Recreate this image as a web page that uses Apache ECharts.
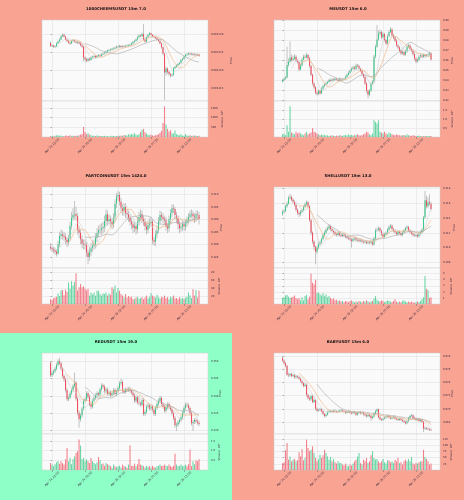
<!DOCTYPE html>
<html>
<head>
<meta charset="utf-8">
<script src="https://cdn.jsdelivr.net/npm/echarts@6/dist/echarts.min.js"></script>
<style>
html, body { margin: 0; padding: 0; width: 464px; height: 500px; overflow: hidden; background: #f9a393; }
.panel { position: absolute; width: 232px; }
</style>
</head>
<body>
<div id="p0" class="panel" style="left:0;top:0;height:167px"></div>
<div id="p1" class="panel" style="left:232px;top:0;height:167px"></div>
<div id="p2" class="panel" style="left:0;top:167px;height:166px"></div>
<div id="p3" class="panel" style="left:232px;top:167px;height:166px"></div>
<div id="p4" class="panel" style="left:0;top:333px;height:167px"></div>
<div id="p5" class="panel" style="left:232px;top:333px;height:167px"></div>
<script>
// x tick positions (candle index) and their time labels
const xTickPos = [1, 23, 45, 67, 89];
const xTickLabels = ['Apr 24 15:00', 'Apr 24 20:30', 'Apr 25 02:00', 'Apr 25 07:30', 'Apr 25 13:00'];

// ---- 1000CHEEMSUSDT ----
const cheemsOpen0 = 0.0012277;
const cheemsClose = [
  0.0012268,0.0012269,0.0012266,0.0012267,0.0012275,0.0012280,0.0012286,0.0012295,0.0012299,0.0012294,
  0.0012286,0.0012282,0.0012277,0.0012275,0.0012281,0.0012284,0.0012280,0.0012277,0.0012279,0.0012275,
  0.0012270,0.0012266,0.0012236,0.0012231,0.0012227,0.0012232,0.0012229,0.0012236,0.0012238,0.0012240,
  0.0012236,0.0012240,0.0012242,0.0012240,0.0012245,0.0012247,0.0012249,0.0012252,0.0012255,0.0012256,
  0.0012258,0.0012260,0.0012261,0.0012263,0.0012266,0.0012265,0.0012268,0.0012265,0.0012267,0.0012266,
  0.0012268,0.0012269,0.0012270,0.0012271,0.0012275,0.0012279,0.0012282,0.0012286,0.0012292,0.0012297,
  0.0012295,0.0012301,0.0012286,0.0012280,0.0012292,0.0012299,0.0012303,0.0012299,0.0012295,0.0012292,
  0.0012290,0.0012286,0.0012282,0.0012275,0.0012264,0.0012247,0.0012194,0.0012205,0.0012196,0.0012190,
  0.0012186,0.0012188,0.0012206,0.0012210,0.0012214,0.0012218,0.0012221,0.0012229,0.0012232,0.0012238,
  0.0012243,0.0012244,0.0012247,0.0012245,0.0012246,0.0012243,0.0012245,0.0012242,0.0012244,0.0012241];
const cheemsHigh = [
  0.0012280,0.0012272,0.0012271,0.0012270,0.0012278,0.0012283,0.0012289,0.0012298,0.0012303,0.0012302,
  0.0012296,0.0012289,0.0012285,0.0012280,0.0012284,0.0012287,0.0012286,0.0012283,0.0012282,0.0012281,
  0.0012278,0.0012273,0.0012268,0.0012239,0.0012235,0.0012236,0.0012236,0.0012239,0.0012241,0.0012243,
  0.0012242,0.0012243,0.0012245,0.0012245,0.0012248,0.0012250,0.0012252,0.0012255,0.0012258,0.0012259,
  0.0012261,0.0012263,0.0012264,0.0012266,0.0012269,0.0012269,0.0012271,0.0012270,0.0012270,0.0012270,
  0.0012271,0.0012272,0.0012273,0.0012274,0.0012278,0.0012282,0.0012285,0.0012289,0.0012295,0.0012301,
  0.0012300,0.0012305,0.0012329,0.0012290,0.0012295,0.0012302,0.0012306,0.0012305,0.0012301,0.0012297,
  0.0012294,0.0012292,0.0012288,0.0012284,0.0012277,0.0012266,0.0012249,0.0012210,0.0012208,0.0012199,
  0.0012193,0.0012192,0.0012209,0.0012213,0.0012217,0.0012221,0.0012224,0.0012232,0.0012235,0.0012241,
  0.0012246,0.0012248,0.0012250,0.0012250,0.0012249,0.0012248,0.0012248,0.0012247,0.0012247,0.0012246];
const cheemsLow = [
  0.0012265,0.0012265,0.0012263,0.0012262,0.0012265,0.0012273,0.0012278,0.0012284,0.0012292,0.0012291,
  0.0012284,0.0012279,0.0012274,0.0012271,0.0012273,0.0012279,0.0012277,0.0012275,0.0012274,0.0012272,
  0.0012267,0.0012262,0.0012226,0.0012224,0.0012222,0.0012224,0.0012226,0.0012227,0.0012233,0.0012235,
  0.0012233,0.0012234,0.0012238,0.0012237,0.0012238,0.0012243,0.0012245,0.0012247,0.0012250,0.0012253,
  0.0012254,0.0012256,0.0012258,0.0012259,0.0012261,0.0012262,0.0012263,0.0012263,0.0012263,0.0012264,
  0.0012264,0.0012266,0.0012267,0.0012268,0.0012269,0.0012273,0.0012277,0.0012280,0.0012284,0.0012290,
  0.0012292,0.0012293,0.0012284,0.0012277,0.0012278,0.0012290,0.0012297,0.0012296,0.0012292,0.0012289,
  0.0012287,0.0012283,0.0012279,0.0012272,0.0012260,0.0012242,0.0012118,0.0012185,0.0012190,0.0012184,
  0.0012180,0.0012182,0.0012185,0.0012203,0.0012207,0.0012211,0.0012215,0.0012218,0.0012226,0.0012230,
  0.0012236,0.0012241,0.0012242,0.0012243,0.0012243,0.0012241,0.0012241,0.0012240,0.0012240,0.0012238];
const cheemsVol = [
  40,60,30,70,80,90,60,80,50,40,70,60,50,90,40,60,50,70,60,90,120,150,
  520,260,150,200,120,90,60,70,50,80,60,50,
  40,50,60,40,50,30,40,60,50,40,50,70,60,80,60,100,90,80,140,120,
  160,130,200,110,90,150,260,
  380,420,250,180,120,90,
  120,80,70,90,110,140,220,
  320,720,1580,650,420,280,350,200,
  180,340,150,120,90,140,70,60,150,
  80,60,90,50,70,80,60,50,70];
const cheemsPriceTicks = [0.001215, 0.00122, 0.001225, 0.00123];
const cheemsVolTicks = [500, 1000, 1500];

// ---- MEUSDT ----
const meOpen0 = 0.8390;
const meClose = [
  0.8407,0.8420,0.8433,0.8557,0.8590,0.8633,0.8607,0.8620,0.8640,0.8600,
  0.8587,0.8513,0.8553,0.8613,0.8640,0.8633,0.8657,0.8623,0.8547,0.8460,
  0.8373,0.8333,0.8280,0.8267,0.8300,0.8273,0.8320,0.8347,0.8360,0.8373,
  0.8387,0.8407,0.8400,0.8413,0.8407,0.8420,0.8413,0.8400,0.8420,0.8407,
  0.8413,0.8420,0.8440,0.8460,0.8480,0.8500,0.8520,0.8533,0.8520,0.8553,
  0.8547,0.8520,0.8500,0.8467,0.8440,0.8373,0.8300,0.8260,0.8300,0.8373,
  0.8390,0.8640,0.8740,0.8813,0.8873,0.8887,0.8833,0.8867,0.8807,0.8773,
  0.8847,0.8887,0.8913,0.8853,0.8833,0.8800,0.8753,0.8733,0.8700,0.8673,
  0.8687,0.8660,0.8693,0.8740,0.8753,0.8720,0.8700,0.8667,0.8620,0.8593,
  0.8607,0.8640,0.8653,0.8640,0.8657,0.8647,0.8653,0.8660,0.8673,0.8613];
const meHigh = [
  0.8420,0.8433,0.8447,0.8740,0.8620,0.8790,0.8660,0.8650,0.8667,0.8655,
  0.8615,0.8595,0.8570,0.8630,0.8660,0.8660,0.8680,0.8670,0.8635,0.8560,
  0.8470,0.8385,0.8345,0.8295,0.8315,0.8310,0.8335,0.8360,0.8375,0.8390,
  0.8400,0.8420,0.8420,0.8425,0.8425,0.8432,0.8430,0.8425,0.8432,0.8430,
  0.8425,0.8432,0.8452,0.8475,0.8495,0.8515,0.8535,0.8550,0.8545,0.8570,
  0.8567,0.8560,0.8530,0.8510,0.8475,0.8450,0.8385,0.8310,0.8315,0.8385,
  0.8405,0.8660,0.8760,0.8957,0.8900,0.8910,0.8900,0.8885,0.8880,0.8820,
  0.8865,0.8905,0.8935,0.8925,0.8870,0.8845,0.8815,0.8770,0.8745,0.8715,
  0.8705,0.8700,0.8710,0.8755,0.8770,0.8765,0.8735,0.8715,0.8680,0.8635,
  0.8625,0.8655,0.8670,0.8668,0.8672,0.8670,0.8668,0.8675,0.8690,0.8685];
const meLow = [
  0.8380,0.8397,0.8410,0.8425,0.8540,0.8580,0.8590,0.8595,0.8610,0.8585,
  0.8570,0.8495,0.8500,0.8545,0.8605,0.8620,0.8625,0.8610,0.8530,0.8445,
  0.8355,0.8315,0.8265,0.8250,0.8255,0.8260,0.8265,0.8310,0.8335,0.8350,
  0.8365,0.8380,0.8390,0.8390,0.8395,0.8398,0.8400,0.8388,0.8390,0.8395,
  0.8397,0.8405,0.8410,0.8430,0.8450,0.8470,0.8490,0.8510,0.8505,0.8510,
  0.8535,0.8505,0.8485,0.8450,0.8425,0.8355,0.8280,0.8223,0.8245,0.8290,
  0.8360,0.8380,0.8625,0.8730,0.8800,0.8855,0.8815,0.8820,0.8790,0.8755,
  0.8760,0.8835,0.8875,0.8840,0.8815,0.8785,0.8740,0.8715,0.8685,0.8655,
  0.8660,0.8645,0.8650,0.8680,0.8725,0.8705,0.8685,0.8650,0.8605,0.8575,
  0.8580,0.8595,0.8625,0.8625,0.8628,0.8632,0.8635,0.8640,0.8648,0.8600];
const meVol = [
  0.15,0.2,0.1,0.66,0.3,1.74,0.25,0.2,0.15,0.3,0.2,0.25,0.2,0.15,0.1,0.2,0.3,0.15,0.2,0.25,0.5,
  0.3,0.25,0.2,0.15,0.1,0.15,0.1,0.12,0.08,0.1,0.06,0.08,0.1,0.07,0.05,0.08,0.06,0.1,0.08,0.06,
  0.1,0.12,0.08,0.15,0.1,0.12,0.08,0.1,0.12,0.15,0.1,0.08,0.12,0.15,0.2,0.3,0.25,0.15,0.1,0.2,
  0.95,0.85,0.76,0.95,0.3,0.25,0.2,0.3,0.2,0.15,0.25,0.2,0.15,0.12,0.1,0.15,0.12,0.1,0.08,0.1,
  0.12,0.08,0.15,0.1,0.08,0.06,0.1,0.08,0.05,0.06,0.08,0.05,0.06,0.04,0.06,0.05,0.04,0.06,0.05];
const mePriceTicks = [0.82, 0.83, 0.84, 0.85, 0.86, 0.87, 0.88, 0.89, 0.90];
const meVolTicks = [0.5, 1.0, 1.5];

// ---- PARTCOINUSDT ----
const partOpen0 = 0.18900;
const partClose = [
  0.18846,0.18806,0.18766,0.18713,0.18633,0.19005,0.19338,0.19404,0.19351,0.19298,
  0.19191,0.19085,0.19245,0.19737,0.20069,0.20176,0.20202,0.20136,0.19590,0.19471,
  0.19205,0.19032,0.19005,0.18979,0.18673,0.18500,0.18713,0.18872,0.18952,0.19005,
  0.19271,0.19457,0.19564,0.19590,0.19644,0.19697,0.19936,0.20202,0.19936,0.20003,
  0.19910,0.19803,0.20069,0.20628,0.20920,0.20973,0.20707,0.20442,0.20335,0.20495,
  0.20255,0.20202,0.20069,0.19910,0.19803,0.19670,0.19737,0.19604,0.19910,0.20096,
  0.20202,0.20016,0.19910,0.19723,0.19590,0.19777,0.19856,0.19910,0.19165,0.19112,
  0.19404,0.19564,0.19936,0.20176,0.20096,0.20016,0.19963,0.19723,0.19644,0.20016,
  0.20255,0.20442,0.20415,0.20176,0.20042,0.19803,0.19644,0.19697,0.19803,0.19723,
  0.19870,0.19963,0.20096,0.20202,0.20229,0.20122,0.20042,0.20202,0.20176,0.20016];
const partHigh = [
  0.19050,0.18950,0.18900,0.18880,0.18800,0.19150,0.19500,0.19600,0.19550,0.19500,
  0.19450,0.19300,0.19400,0.19900,0.20300,0.20450,0.20734,0.20500,0.20250,0.19750,
  0.19600,0.19350,0.19200,0.19200,0.19100,0.18800,0.18900,0.19050,0.19150,0.19200,
  0.19450,0.19650,0.19750,0.19800,0.19850,0.19900,0.20150,0.20400,0.20350,0.20200,
  0.20150,0.20050,0.20250,0.20800,0.21050,0.21133,0.21100,0.20850,0.20600,0.20650,
  0.20650,0.20400,0.20350,0.20200,0.20050,0.19950,0.19900,0.19850,0.20100,0.20300,
  0.20400,0.20350,0.20150,0.20050,0.19850,0.19950,0.20050,0.20100,0.20000,0.19300,
  0.19550,0.19750,0.20100,0.20350,0.20300,0.20250,0.20150,0.20100,0.19850,0.20150,
  0.20400,0.20600,0.20600,0.20500,0.20300,0.20150,0.19950,0.19850,0.19950,0.19950,
  0.20000,0.20100,0.20250,0.20350,0.20400,0.20350,0.20250,0.20350,0.20350,0.20300];
const partLow = [
  0.18760,0.18700,0.18650,0.18600,0.18520,0.18580,0.18900,0.19200,0.19200,0.19150,
  0.19000,0.18900,0.18950,0.19150,0.19600,0.19950,0.20000,0.19950,0.19400,0.19250,
  0.19000,0.18850,0.18800,0.18800,0.18500,0.18207,0.18350,0.18550,0.18700,0.18800,
  0.18850,0.19100,0.19300,0.19400,0.19400,0.19450,0.19500,0.19750,0.19750,0.19800,
  0.19700,0.19600,0.19650,0.19900,0.20450,0.20750,0.20550,0.20250,0.20150,0.20150,
  0.20050,0.20000,0.19900,0.19750,0.19600,0.19450,0.19500,0.19400,0.19450,0.19750,
  0.19950,0.19850,0.19750,0.19550,0.19400,0.19450,0.19650,0.19700,0.19000,0.18939,
  0.18950,0.19250,0.19450,0.19800,0.19950,0.19850,0.19800,0.19550,0.19450,0.19500,
  0.19850,0.20100,0.20250,0.20000,0.19850,0.19600,0.19450,0.19500,0.19550,0.19550,
  0.19550,0.19700,0.19800,0.19950,0.20050,0.19950,0.19850,0.19900,0.20000,0.19800];
const partVol = [
  12,10,14,16,18,26,20,34,35,22,36,30,54,38,57,46,55,77,34,42,
  50,42,44,38,34,38,21,29,24,29,21,33,33,25,21,27,25,29,21,27,
  23,42,37,46,29,40,33,25,21,17,25,16,20,17,18,12,13,16,18,13,
  15,17,12,16,21,14,18,27,21,18,16,23,17,13,18,16,21,15,17,12,
  18,16,21,14,15,12,17,13,15,12,16,18,29,21,15,37,21,35,16,33];
const partPriceTicks = [0.185, 0.190, 0.195, 0.200, 0.205, 0.210];
const partVolTicks = [20, 40, 60, 80];

// ---- SHELLUSDT ----
const shellOpen0 = 0.11450;
const shellClose = [
  0.11486,0.11495,0.11558,0.11594,0.11675,0.11684,0.11648,0.11621,0.11576,0.11513,
  0.11468,0.11450,0.11486,0.11504,0.11549,0.11585,0.11612,0.11558,0.11370,0.11204,
  0.11083,0.11011,0.10948,0.11002,0.11047,0.11074,0.11119,0.11172,0.11204,0.11244,
  0.11262,0.11289,0.11253,0.11226,0.11208,0.11181,0.11172,0.11199,0.11172,0.11159,
  0.11181,0.11163,0.11145,0.11136,0.11128,0.11110,0.11092,0.11119,0.11128,0.11101,
  0.11110,0.11092,0.11101,0.11083,0.11074,0.11083,0.11065,0.11074,0.11065,0.11083,
  0.11047,0.11128,0.11235,0.11244,0.11262,0.11226,0.11181,0.11145,0.11181,0.11199,
  0.11244,0.11280,0.11298,0.11253,0.11226,0.11208,0.11181,0.11217,0.11199,0.11172,
  0.11208,0.11235,0.11262,0.11280,0.11235,0.11208,0.11190,0.11172,0.11163,0.11172,
  0.11154,0.11190,0.11208,0.11244,0.11406,0.11639,0.11558,0.11612,0.11594,0.11522];
const shellHigh = [
  0.11510,0.11520,0.11580,0.11620,0.11700,0.11728,0.11705,0.11670,0.11640,0.11595,
  0.11530,0.11490,0.11510,0.11525,0.11570,0.11610,0.11640,0.11630,0.11575,0.11390,
  0.11220,0.11100,0.11030,0.11030,0.11080,0.11100,0.11140,0.11200,0.11230,0.11270,
  0.11290,0.11320,0.11310,0.11275,0.11245,0.11230,0.11200,0.11220,0.11220,0.11195,
  0.11200,0.11200,0.11185,0.11165,0.11155,0.11150,0.11130,0.11140,0.11150,0.11150,
  0.11130,0.11130,0.11125,0.11120,0.11100,0.11105,0.11100,0.11095,0.11095,0.11105,
  0.11100,0.11150,0.11260,0.11270,0.11290,0.11280,0.11245,0.11200,0.11200,0.11220,
  0.11265,0.11305,0.11320,0.11315,0.11270,0.11245,0.11225,0.11240,0.11235,0.11215,
  0.11230,0.11255,0.11285,0.11305,0.11295,0.11250,0.11225,0.11210,0.11190,0.11190,
  0.11190,0.11210,0.11230,0.11265,0.11430,0.11764,0.11700,0.11680,0.11720,0.11620];
const shellLow = [
  0.11430,0.11465,0.11480,0.11540,0.11580,0.11650,0.11625,0.11600,0.11555,0.11490,
  0.11440,0.11410,0.11430,0.11465,0.11490,0.11530,0.11570,0.11540,0.11350,0.11170,
  0.11050,0.10970,0.10778,0.10920,0.10980,0.11020,0.11050,0.11100,0.11150,0.11185,
  0.11225,0.11240,0.11230,0.11205,0.11190,0.11160,0.11150,0.11155,0.11150,0.11140,
  0.11140,0.11145,0.11125,0.11115,0.11105,0.11090,0.11002,0.11075,0.11100,0.11080,
  0.11080,0.11070,0.11075,0.11060,0.11055,0.11055,0.11045,0.11045,0.11045,0.11045,
  0.11024,0.11030,0.11110,0.11215,0.11225,0.11205,0.11160,0.11125,0.11130,0.11165,
  0.11180,0.11225,0.11260,0.11235,0.11205,0.11190,0.11160,0.11165,0.11180,0.11155,
  0.11155,0.11190,0.11220,0.11245,0.11215,0.11190,0.11170,0.11155,0.11145,0.11145,
  0.11135,0.11135,0.11170,0.11190,0.11225,0.11390,0.11530,0.11540,0.11570,0.11500];
const shellVol = [
  1.0,1.1,1.4,1.5,1.2,1.0,1.1,1.2,1.4,1.0,0.8,1.0,0.6,1.1,0.6,1.3,1.5,0.8,1.2,5.0,
  3.5,3.2,4.0,1.8,1.9,1.6,1.4,1.8,1.3,1.6,1.1,1.3,1.0,0.8,0.9,0.6,0.7,0.5,0.6,0.4,
  0.5,0.3,0.5,0.4,0.3,0.5,0.6,0.4,0.3,0.4,0.3,0.5,0.4,0.3,0.5,0.4,0.6,0.4,0.3,0.4,
  0.5,0.9,1.3,0.7,0.5,0.4,0.6,0.5,0.3,0.4,0.6,0.5,0.4,0.3,0.5,0.8,0.4,0.3,0.4,0.3,
  0.5,0.6,0.4,0.3,0.4,0.3,0.4,0.3,0.2,0.3,0.4,0.3,0.5,0.8,1.1,4.6,2.5,2.3,1.0,1.1];
const shellPriceTicks = [0.108, 0.110, 0.112, 0.114, 0.116, 0.118];
const shellVolTicks = [1, 2, 3, 4, 5];

// ---- REDUSDT ----
const redOpen0 = 0.34952;
const redClose = [
  0.34589,0.34646,0.34704,0.34780,0.34895,0.34990,0.34933,0.34780,0.34570,0.34474,
  0.34168,0.33901,0.33948,0.34073,0.34168,0.34283,0.34379,0.33920,0.33518,0.33327,
  0.33442,0.33633,0.33853,0.33901,0.34073,0.33977,0.33757,0.33690,0.33862,0.33939,
  0.34015,0.34073,0.34034,0.34187,0.34302,0.34264,0.34130,0.34187,0.34054,0.34092,
  0.34015,0.34073,0.34168,0.34054,0.34130,0.34226,0.34360,0.34398,0.34149,0.34111,
  0.34187,0.34168,0.34207,0.34149,0.34092,0.34015,0.33862,0.33958,0.33805,0.33786,
  0.33748,0.33882,0.33480,0.33537,0.33690,0.33729,0.33633,0.33690,0.33595,0.33480,
  0.33652,0.33767,0.33862,0.33939,0.33767,0.33690,0.33576,0.33671,0.33767,0.33671,
  0.33614,0.33499,0.33365,0.33155,0.33174,0.33250,0.33308,0.33384,0.33518,0.33652,
  0.33748,0.33729,0.33652,0.33499,0.33212,0.33250,0.33308,0.33270,0.33231,0.33193];
const redHigh = [
  0.35000,0.34700,0.34760,0.34840,0.34950,0.35050,0.35096,0.34980,0.34830,0.34620,
  0.34520,0.34220,0.34010,0.34130,0.34220,0.34340,0.34665,0.34430,0.33970,0.33580,
  0.33500,0.33690,0.33910,0.33960,0.34130,0.34130,0.34030,0.33810,0.33920,0.34000,
  0.34070,0.34130,0.34120,0.34240,0.34360,0.34350,0.34320,0.34240,0.34240,0.34150,
  0.34150,0.34130,0.34220,0.34220,0.34180,0.34280,0.34420,0.34500,0.34450,0.34200,
  0.34240,0.34240,0.34260,0.34260,0.34200,0.34140,0.34070,0.34010,0.34010,0.34000,
  0.33840,0.33940,0.33930,0.33600,0.33750,0.33790,0.33780,0.33750,0.33750,0.33650,
  0.33710,0.33820,0.33920,0.34000,0.33990,0.33820,0.33740,0.33730,0.33820,0.33820,
  0.33720,0.33670,0.33550,0.33420,0.33230,0.33310,0.33360,0.33440,0.33570,0.33710,
  0.33800,0.33820,0.33780,0.33700,0.33550,0.33310,0.33360,0.33360,0.33320,0.33280];
const redLow = [
  0.34540,0.34540,0.34600,0.34660,0.34730,0.34850,0.34880,0.34720,0.34510,0.34400,
  0.34100,0.33850,0.33840,0.33900,0.34020,0.34110,0.34230,0.33860,0.33440,0.33088,
  0.33260,0.33380,0.33580,0.33800,0.33850,0.33920,0.33700,0.33620,0.33640,0.33810,
  0.33880,0.33960,0.33980,0.33980,0.34130,0.34200,0.34070,0.34070,0.34000,0.34000,
  0.33960,0.33960,0.34020,0.34000,0.34000,0.34070,0.34170,0.34300,0.34090,0.34050,
  0.34060,0.34110,0.34110,0.34090,0.34040,0.33960,0.33800,0.33800,0.33750,0.33730,
  0.33690,0.33690,0.33420,0.33420,0.33480,0.33640,0.33580,0.33580,0.33540,0.33420,
  0.33420,0.33600,0.33710,0.33800,0.33710,0.33630,0.33520,0.33520,0.33610,0.33610,
  0.33560,0.33440,0.33300,0.33090,0.32992,0.33110,0.33190,0.33250,0.33330,0.33460,
  0.33600,0.33670,0.33600,0.33440,0.33150,0.32992,0.33190,0.33210,0.33170,0.33130];
const redVol = [
  0.36,0.28,0.2,0.3,0.4,0.45,0.32,0.45,0.35,0.28,0.55,1.14,0.45,0.62,0.3,0.55,0.7,0.88,0.97,1.57,
  1.26,0.55,0.62,0.45,0.55,0.45,0.36,0.62,0.45,0.36,0.3,0.4,0.67,0.5,0.3,0.33,0.22,0.36,0.3,0.25,
  0.2,0.12,0.28,0.2,0.15,0.2,0.22,0.12,0.28,0.2,0.18,0.12,0.28,1.26,0.2,0.22,0.33,0.2,0.3,0.57,
  0.28,0.25,0.2,0.12,0.22,0.15,0.2,0.12,0.22,0.15,0.12,0.2,0.22,0.28,0.2,0.22,0.28,0.22,0.2,0.28,
  0.2,0.15,0.22,0.84,0.28,0.2,0.22,0.28,0.2,0.22,0.28,0.2,0.3,1.05,0.2,0.45,0.3,0.5,0.45,0.55];
const redPriceTicks = [0.330, 0.335, 0.340, 0.345, 0.350];
const redVolTicks = [0.5, 1.0, 1.5];

// ---- BABYUSDT ----
const babyOpen0 = 0.07770;
const babyClose = [
  0.07729,0.07689,0.07649,0.07518,0.07508,0.07528,0.07498,0.07508,0.07478,0.07493,
  0.07478,0.07457,0.07417,0.07387,0.07347,0.07367,0.07216,0.07165,0.07145,0.07195,
  0.07105,0.07135,0.07004,0.06974,0.06984,0.06994,0.06964,0.06923,0.06893,0.06913,
  0.06954,0.06964,0.06969,0.06959,0.06974,0.06964,0.06954,0.06964,0.06974,0.06979,
  0.06964,0.06954,0.06943,0.06954,0.06964,0.06943,0.06933,0.06954,0.06943,0.06913,
  0.06943,0.06954,0.06933,0.06943,0.06918,0.06903,0.06888,0.06913,0.06893,0.06863,
  0.06883,0.06933,0.06964,0.06994,0.06873,0.06843,0.06833,0.06853,0.06868,0.06883,
  0.06893,0.06873,0.06853,0.06868,0.06883,0.06853,0.06843,0.06833,0.06853,0.06833,
  0.06818,0.06802,0.06782,0.06813,0.06863,0.06893,0.06903,0.06868,0.06853,0.06833,
  0.06843,0.06818,0.06833,0.06802,0.06702,0.06712,0.06702,0.06692,0.06687,0.06682];
const babyHigh = [
  0.07800,0.07745,0.07705,0.07665,0.07545,0.07550,0.07545,0.07530,0.07525,0.07515,
  0.07510,0.07500,0.07475,0.07435,0.07405,0.07390,0.07385,0.07235,0.07190,0.07215,
  0.07215,0.07160,0.07150,0.07020,0.07005,0.07015,0.07010,0.06980,0.06940,0.06935,
  0.06975,0.06985,0.06985,0.06985,0.06990,0.06990,0.06980,0.06980,0.06990,0.06995,
  0.06995,0.06980,0.06970,0.06970,0.06980,0.06980,0.06960,0.06970,0.06970,0.06960,
  0.06960,0.06970,0.06970,0.06960,0.06960,0.06935,0.06920,0.06930,0.06930,0.06910,
  0.06900,0.06950,0.06985,0.07004,0.07005,0.06890,0.06860,0.06870,0.06885,0.06900,
  0.06910,0.06910,0.06890,0.06885,0.06900,0.06900,0.06870,0.06860,0.06870,0.06870,
  0.06850,0.06835,0.06820,0.06830,0.06880,0.06910,0.06925,0.06915,0.06885,0.06870,
  0.06860,0.06860,0.06850,0.06850,0.06820,0.06735,0.06730,0.06720,0.06710,0.06705];
const babyLow = [
  0.07715,0.07670,0.07630,0.07500,0.07480,0.07490,0.07475,0.07480,0.07455,0.07460,
  0.07460,0.07440,0.07400,0.07365,0.07325,0.07330,0.07185,0.07140,0.07120,0.07125,
  0.07085,0.07090,0.06985,0.06955,0.06960,0.06965,0.06945,0.06905,0.06870,0.06875,
  0.06900,0.06940,0.06950,0.06945,0.06945,0.06950,0.06940,0.06940,0.06950,0.06960,
  0.06950,0.06940,0.06925,0.06930,0.06940,0.06925,0.06915,0.06920,0.06925,0.06895,
  0.06900,0.06930,0.06915,0.06920,0.06900,0.06885,0.06870,0.06875,0.06875,0.06817,
  0.06845,0.06870,0.06920,0.06950,0.06855,0.06825,0.06815,0.06820,0.06840,0.06855,
  0.06870,0.06860,0.06840,0.06840,0.06855,0.06840,0.06825,0.06815,0.06820,0.06815,
  0.06800,0.06785,0.06765,0.06770,0.06800,0.06850,0.06880,0.06850,0.06835,0.06815,
  0.06820,0.06800,0.06805,0.06785,0.06650,0.06685,0.06685,0.06675,0.06670,0.06665];
const babyVol = [
  28,31,80,109,42,55,35,42,45,35,40,72,55,85,39,50,123,89,76,82,
  96,69,49,35,45,62,49,60,82,69,55,42,53,35,45,31,26,35,28,28,
  22,18,26,18,15,22,18,26,35,42,55,69,28,22,42,35,49,28,35,60,
  76,49,42,45,35,28,35,45,31,26,39,39,31,35,28,42,35,49,28,31,
  22,35,42,35,45,35,53,26,22,28,26,31,35,35,82,53,45,35,22,26];
const babyPriceTicks = [0.068, 0.070, 0.072, 0.074, 0.076, 0.078];
const babyVolTicks = [25, 50, 75, 100, 125];

// moving average periods drawn over the candles
const maPeriods = [7, 12, 24];
const maColors = ['#d4d4d4', '#f0b07a', '#a9a9a9'];

const UP = '#3cc98a';
const DOWN = '#ef4f5e';
const UP_VOL = 'rgba(60,201,138,0.75)';
const DOWN_VOL = 'rgba(239,79,94,0.7)';
const WICK = '#b4b4b4';
const GRID_LINE = '#e3e3e3';
const TEXT = '#3a2a3a';
const FONT = 'DejaVu Sans';
const TICK_FONT = 2.6;

function sma(vals, n) {
  const out = [];
  let sum = 0;
  for (let i = 0; i < vals.length; i++) {
    sum += vals[i];
    if (i >= n) sum -= vals[i - n];
    if (i >= n - 1) out.push([i, sum / n]);
  }
  return out;
}

function drawPanel(id, p) {
  const chart = echarts.init(document.getElementById(id), null, { renderer: 'canvas' });
  const opens = [p.open0].concat(p.close.slice(0, -1));
  const candles = p.close.map((c, i) => [i, opens[i], c, p.low[i], p.high[i]]);
  const vols = p.vol.map((v, i) => ({
    value: [i, v],
    itemStyle: { color: p.close[i] >= opens[i] ? UP_VOL : DOWN_VOL }
  }));

  const xBase = {
    type: 'value', min: -5.7, max: 105,
    axisLine: { show: false },
    splitLine: { show: true, lineStyle: { color: GRID_LINE, width: 0.6 } }
  };
  const yBase = {
    type: 'value', position: 'right',
    axisLine: { show: false },
    splitLine: { show: true, lineStyle: { color: GRID_LINE, width: 0.6 } },
    nameLocation: 'middle', nameRotate: 90, nameMoveOverlap: false,
    nameTextStyle: { fontSize: 2.8, color: TEXT, fontFamily: FONT }
  };

  const series = [{
    type: 'custom',
    xAxisIndex: 0, yAxisIndex: 0,
    clip: true,
    encode: { x: 0, y: [1, 2, 3, 4] },
    data: candles,
    renderItem: function (params, api) {
      const x = api.value(0);
      const o = api.value(1), c = api.value(2);
      const top = api.coord([x, Math.max(o, c)]);
      const bot = api.coord([x, Math.min(o, c)]);
      const hi = api.coord([x, api.value(4)]);
      const lo = api.coord([x, api.value(3)]);
      const w = api.size([1, 0])[0] * 0.72;
      return {
        type: 'group',
        children: [
          { type: 'line', shape: { x1: hi[0], y1: hi[1], x2: lo[0], y2: lo[1] },
            style: { stroke: WICK, lineWidth: 0.8 } },
          { type: 'rect', shape: { x: top[0] - w / 2, y: top[1], width: w, height: Math.max(bot[1] - top[1], 0.7) },
            style: { fill: c >= o ? UP : DOWN } }
        ]
      };
    }
  }];
  maPeriods.forEach((n, k) => {
    series.push({
      type: 'line', xAxisIndex: 0, yAxisIndex: 0,
      data: sma(p.close, n), showSymbol: false, silent: true, z: 3,
      lineStyle: { color: maColors[k], width: 0.6 }
    });
  });
  series.push({
    type: 'bar', xAxisIndex: 1, yAxisIndex: 1,
    data: vols, barWidth: 1.1
  });

  const gridBase = {
    left: 42, right: 24, show: true, backgroundColor: '#fafafa',
    borderColor: '#cfcfcf', borderWidth: 0.5,
    containLabel: false, outerBoundsMode: 'none'
  };

  chart.setOption({
    animation: false,
    backgroundColor: p.bg,
    title: {
      text: p.title, left: 'center', top: 1.5,
      textStyle: { fontSize: 3.9, fontWeight: 'bold', color: '#111', fontFamily: FONT }
    },
    grid: [
      Object.assign({}, gridBase, { top: 20, height: 81 }),
      Object.assign({}, gridBase, { top: 101, height: 36 })
    ],
    xAxis: [
      Object.assign({}, xBase, {
        gridIndex: 0,
        axisTick: { show: false, customValues: xTickPos },
        axisLabel: { show: false }
      }),
      Object.assign({}, xBase, {
        gridIndex: 1,
        axisTick: { show: true, customValues: xTickPos, length: 2, lineStyle: { color: '#666', width: 0.5 } },
        axisLabel: {
          customValues: xTickPos,
          formatter: v => xTickLabels[xTickPos.indexOf(v)],
          rotate: 45, align: 'center', verticalAlign: 'middle', margin: 9,
          fontSize: 3.0, color: TEXT, fontFamily: FONT
        }
      })
    ],
    yAxis: [
      Object.assign({}, yBase, {
        gridIndex: 0, min: p.priceMin, max: p.priceMax,
        name: 'Price', nameGap: p.priceNameGap,
        axisTick: { show: true, customValues: p.priceTicks, length: 1.5, lineStyle: { color: '#666', width: 0.5 } },
        axisLabel: {
          customValues: p.priceTicks, formatter: v => v.toFixed(p.priceDec),
          fontSize: TICK_FONT, color: TEXT, fontFamily: FONT, margin: 3
        }
      }),
      Object.assign({}, yBase, {
        gridIndex: 1, min: 0, max: p.volMax,
        name: 'Volume  10\u2076', nameGap: p.volNameGap,
        axisTick: { show: true, customValues: p.volTicks, length: 1.5, lineStyle: { color: '#666', width: 0.5 } },
        axisLabel: {
          customValues: p.volTicks, formatter: v => v.toFixed(p.volDec),
          fontSize: TICK_FONT, color: TEXT, fontFamily: FONT, margin: 3
        }
      })
    ],
    series: series
  });
}

const SALMON = '#f9a393';
const MINT = '#8fffc8';

drawPanel('p0', { title: '1000CHEEMSUSDT 15m 7.0', bg: SALMON, open0: cheemsOpen0, close: cheemsClose, high: cheemsHigh, low: cheemsLow, vol: cheemsVol,
  priceTicks: cheemsPriceTicks, priceDec: 6, priceMin: 0.0012115, priceMax: 0.0012340, volTicks: cheemsVolTicks, volDec: 0, volMax: 1860,
  priceNameGap: 22, volNameGap: 13 });
drawPanel('p1', { title: 'MEUSDT 15m 6.0', bg: SALMON, open0: meOpen0, close: meClose, high: meHigh, low: meLow, vol: meVol,
  priceTicks: mePriceTicks, priceDec: 2, priceMin: 0.8197, priceMax: 0.9007, volTicks: meVolTicks, volDec: 1, volMax: 2.04,
  priceNameGap: 11, volNameGap: 11 });
drawPanel('p2', { title: 'PARTCOINUSDT 15m 1424.0', bg: SALMON, open0: partOpen0, close: partClose, high: partHigh, low: partLow, vol: partVol,
  priceTicks: partPriceTicks, priceDec: 3, priceMin: 0.18061, priceMax: 0.21293, volTicks: partVolTicks, volDec: 0, volMax: 90,
  priceNameGap: 12, volNameGap: 10 });
drawPanel('p3', { title: 'SHELLUSDT 15m 13.0', bg: SALMON, open0: shellOpen0, close: shellClose, high: shellHigh, low: shellLow, vol: shellVol,
  priceTicks: shellPriceTicks, priceDec: 3, priceMin: 0.10728, priceMax: 0.11818, volTicks: shellVolTicks, volDec: 0, volMax: 5.93,
  priceNameGap: 12.5, volNameGap: 10 });
drawPanel('p4', { title: 'REDUSDT 15m 19.0', bg: MINT, open0: redOpen0, close: redClose, high: redHigh, low: redLow, vol: redVol,
  priceTicks: redPriceTicks, priceDec: 3, priceMin: 0.32906, priceMax: 0.35229, volTicks: redVolTicks, volDec: 1, volMax: 1.86,
  priceNameGap: 11, volNameGap: 10 });
drawPanel('p5', { title: 'BABYUSDT 15m 6.0', bg: SALMON, open0: babyOpen0, close: babyClose, high: babyHigh, low: babyLow, vol: babyVol,
  priceTicks: babyPriceTicks, priceDec: 3, priceMin: 0.06621, priceMax: 0.07845, volTicks: babyVolTicks, volDec: 0, volMax: 146,
  priceNameGap: 11, volNameGap: 10 });
</script>
</body>
</html>
